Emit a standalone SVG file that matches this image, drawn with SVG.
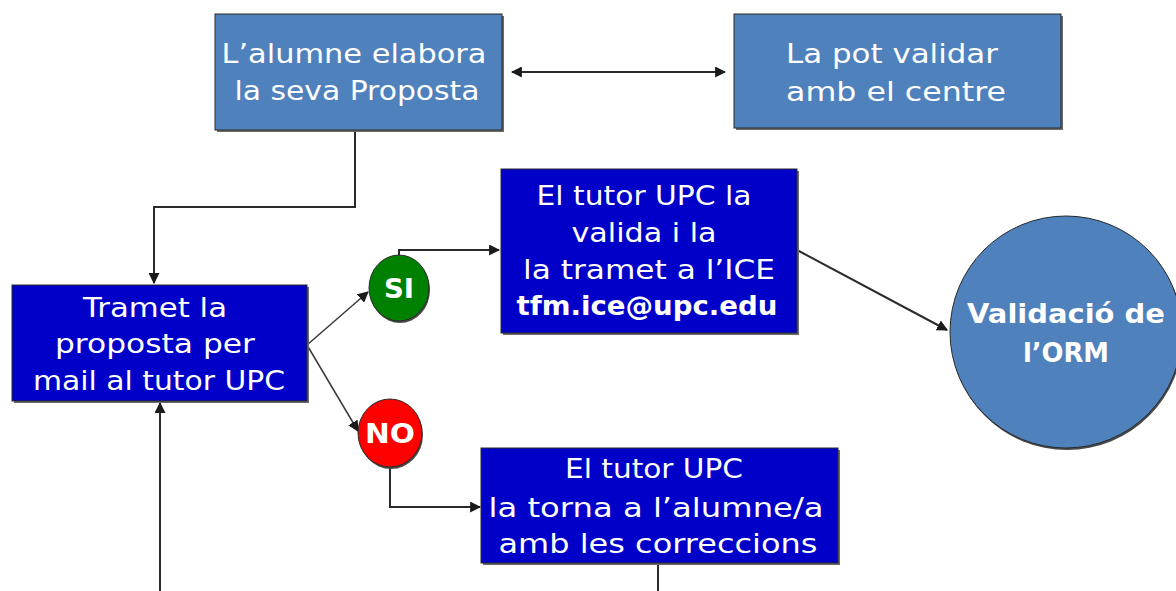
<svg xmlns="http://www.w3.org/2000/svg" width="1176" height="591" viewBox="0 0 1176 591">
<defs>
<marker id="ah" viewBox="0 0 10 10" refX="9" refY="5" markerWidth="11" markerHeight="11" markerUnits="userSpaceOnUse" orient="auto-start-reverse">
<path d="M0,0 L10,5 L0,10 Z" fill="#1a1a1a"/>
</marker>
</defs>
<style>
.lb{fill:#4F81BD;stroke:#2a2a2a;stroke-width:1}
.db{fill:#0000C8;stroke:#2a2a2a;stroke-width:1}
.sh{fill:#6b6b6b}
.t{font-family:"DejaVu Sans","Liberation Sans",sans-serif;font-size:26px;fill:#ffffff;text-anchor:middle}
.b{font-weight:bold}
.c{fill:none;stroke:#2a2a2a;stroke-width:2}
.d{fill:none;stroke:#3a3a3a;stroke-width:1.5}
</style>
<rect width="1176" height="591" fill="#ffffff"/>

<g id="connectors">
<line class="c" x1="512" y1="72" x2="725" y2="72" marker-start="url(#ah)" marker-end="url(#ah)"/>
<path class="c" d="M355,131 V207 H154 V283" marker-end="url(#ah)"/>
<line class="d" x1="307" y1="345" x2="368" y2="292" marker-end="url(#ah)"/>
<line class="d" x1="307" y1="345" x2="358" y2="431" marker-end="url(#ah)"/>
<path class="c" d="M399,255 V250 H499" marker-end="url(#ah)"/>
<line class="c" x1="797" y1="250" x2="947" y2="330" marker-end="url(#ah)"/>
<path class="c" d="M390,467 V507 H480" marker-end="url(#ah)"/>
<line class="c" x1="658" y1="565" x2="658" y2="591"/>
<line class="c" x1="160" y1="591" x2="160" y2="403" marker-end="url(#ah)"/>
</g>

<g id="node-elabora">
<rect class="sh" x="217" y="16" width="287" height="116"/>
<rect class="lb" x="215" y="14" width="287" height="116"/>
<text class="t" x="354" y="63" textLength="265" lengthAdjust="spacingAndGlyphs">L’alumne elabora</text>
<text class="t" x="357" y="100" textLength="245" lengthAdjust="spacingAndGlyphs">la seva Proposta</text>
</g>

<g id="node-centre">
<rect class="sh" x="736" y="16" width="327" height="114"/>
<rect class="lb" x="734" y="14" width="327" height="114"/>
<text class="t" x="892" y="63" textLength="212" lengthAdjust="spacingAndGlyphs">La pot validar</text>
<text class="t" x="896" y="101" textLength="220" lengthAdjust="spacingAndGlyphs">amb el centre</text>
</g>

<g id="node-tramet">
<rect class="sh" x="14" y="287" width="295" height="116"/>
<rect class="db" x="12" y="285" width="295" height="116"/>
<text class="t" x="155" y="317" textLength="144" lengthAdjust="spacingAndGlyphs">Tramet la</text>
<text class="t" x="155" y="353" textLength="200" lengthAdjust="spacingAndGlyphs">proposta per</text>
<text class="t" x="159" y="390" textLength="252" lengthAdjust="spacingAndGlyphs">mail al tutor UPC</text>
</g>

<g id="node-si">
<ellipse cx="400" cy="290" rx="30" ry="33" fill="#4a4a4a"/>
<ellipse cx="399" cy="288" rx="30" ry="33" fill="#008000" stroke="#2a2a2a" stroke-width="1"/>
<text class="t b" x="399" y="298" font-size="24" textLength="30" lengthAdjust="spacingAndGlyphs">SI</text>
</g>

<g id="node-no">
<ellipse cx="391" cy="435" rx="32" ry="34" fill="#4a4a4a"/>
<ellipse cx="390" cy="433" rx="32" ry="34" fill="#FF0000" stroke="#2a2a2a" stroke-width="1"/>
<text class="t b" x="390" y="443" font-size="26" textLength="50" lengthAdjust="spacingAndGlyphs">NO</text>
</g>

<g id="node-valida">
<rect class="sh" x="503" y="171" width="296" height="164"/>
<rect class="db" x="501" y="169" width="296" height="164"/>
<text class="t" x="644" y="205" textLength="215" lengthAdjust="spacingAndGlyphs">El tutor UPC la</text>
<text class="t" x="644" y="242" textLength="145" lengthAdjust="spacingAndGlyphs">valida i la</text>
<text class="t" x="649" y="279" textLength="252" lengthAdjust="spacingAndGlyphs">la tramet a l’ICE</text>
<text class="t b" x="647" y="315" textLength="261" lengthAdjust="spacingAndGlyphs">tfm.ice@upc.edu</text>
</g>

<g id="node-orm">
<circle cx="1067" cy="334" r="116" fill="#4a4a4a"/>
<circle cx="1066" cy="332" r="116" fill="#4F81BD" stroke="#2a2a2a" stroke-width="1"/>
<text class="t b" x="1066" y="323" textLength="198" lengthAdjust="spacingAndGlyphs">Validació de</text>
<text class="t b" x="1066" y="362" textLength="86" lengthAdjust="spacingAndGlyphs">l’ORM</text>
</g>

<g id="node-torna">
<rect class="sh" x="483" y="450" width="357" height="115"/>
<rect class="db" x="481" y="448" width="357" height="115"/>
<text class="t" x="654" y="478" textLength="178" lengthAdjust="spacingAndGlyphs">El tutor UPC</text>
<text class="t" x="656" y="517" textLength="335" lengthAdjust="spacingAndGlyphs">la torna a l’alumne/a</text>
<text class="t" x="658" y="553" textLength="319" lengthAdjust="spacingAndGlyphs">amb les correccions</text>
</g>
</svg>
